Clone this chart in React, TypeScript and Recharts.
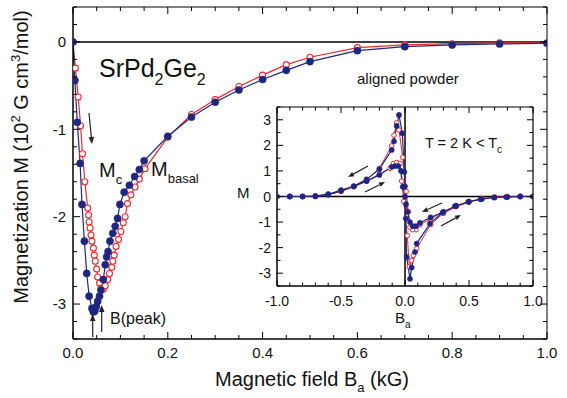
import React from 'react';
import { LineChart, Line, XAxis, YAxis, ReferenceLine } from 'recharts';

const BLUE = '#1f2682';
const RED = '#f0282a';
const FONT = '"Liberation Sans", Arial, Helvetica, sans-serif';

// main panel, virgin curves (field in kG, M in 10^2 G cm^3/mol)
const FIELD_BASAL = [
  0, 0.004, 0.009, 0.015, 0.019, 0.024, 0.029, 0.034, 0.04, 0.043, 0.046,
  0.049, 0.052, 0.056, 0.059, 0.064, 0.068, 0.071, 0.074, 0.078, 0.084,
  0.089, 0.094, 0.099, 0.108, 0.119, 0.13, 0.14, 0.15, 0.2, 0.25, 0.3, 0.35,
  0.4, 0.45, 0.5, 0.6, 0.7, 0.8, 0.9, 1.0
];
const M_BASAL = [
  0, -0.44, -0.92, -1.39, -1.86, -2.28, -2.65, -2.91, -3.05, -3.09, -3.08,
  -3.03, -2.97, -2.91, -2.84, -2.72, -2.55, -2.46, -2.4, -2.28, -2.19, -2.11,
  -2.02, -1.86, -1.72, -1.64, -1.54, -1.46, -1.36, -1.08, -0.86, -0.69,
  -0.55, -0.43, -0.325, -0.225, -0.1, -0.054, -0.034, -0.023, -0.015
];
const FIELD_C = [
  0, 0.005, 0.011, 0.016, 0.02, 0.025, 0.031, 0.033, 0.034, 0.036, 0.038,
  0.04, 0.043, 0.045, 0.047, 0.05, 0.052, 0.056, 0.059, 0.064, 0.068, 0.073,
  0.077, 0.082, 0.084, 0.087, 0.091, 0.096, 0.101, 0.106, 0.11, 0.115, 0.122,
  0.131, 0.14, 0.152, 0.2, 0.25, 0.3, 0.35, 0.4, 0.45, 0.5, 0.6, 0.7, 0.8,
  0.9, 1.0
];
const M_C = [
  0, -0.3, -0.63, -0.96, -1.28, -1.6, -1.9, -1.98, -2.06, -2.13, -2.21,
  -2.28, -2.36, -2.44, -2.51, -2.6, -2.69, -2.76, -2.82, -2.83, -2.79, -2.72,
  -2.65, -2.58, -2.51, -2.44, -2.34, -2.26, -2.17, -2.07, -2.0, -1.85, -1.75,
  -1.66, -1.57, -1.45, -1.09, -0.83, -0.66, -0.51, -0.38, -0.26, -0.175,
  -0.065, -0.034, -0.02, -0.01, -0.01
];

// inset, full loops in sweep order (down from +1 kG to -1 kG, then back up)
const LOOP_FIELD_BASAL = [
  1.0, 0.9, 0.8, 0.7, 0.6, 0.5, 0.4, 0.3, 0.2, 0.117, 0.086, 0.06, 0.039,
  0.02, 0.008, 0, -0.005, -0.021, -0.047, -0.065, -0.086, -0.104, -0.2, -0.3,
  -0.4, -0.5, -0.6, -0.7, -0.8, -0.9, -1.0,
  -0.9, -0.8, -0.7, -0.6, -0.5, -0.4, -0.3, -0.2, -0.104, -0.078, -0.052,
  -0.031, -0.018, 0, 0.006, 0.013, 0.039, 0.052, 0.078, 0.091, 0.195, 0.294,
  0.39, 0.495, 0.59, 0.695, 0.79, 0.9, 1.0
];
const LOOP_M_BASAL = [
  0, 0, -0.02, -0.04, -0.1, -0.2, -0.36, -0.6, -0.82, -1.03, -1.16, -1.16,
  -1.0, -0.6, -0.3, 0.4, 0.96, 2.47, 3.19, 2.76, 2.16, 1.82, 1.07, 0.67, 0.4,
  0.25, 0.09, 0.02, 0, 0, 0,
  0, 0, 0, 0.07, 0.22, 0.4, 0.6, 0.84, 1.16, 1.19, 1.19, 1.0, 0.38, 0,
  -0.86, -2.37, -3.22, -2.78, -2.17, -1.84, -1.06, -0.63, -0.38, -0.21,
  -0.11, -0.04, -0.02, 0, 0
];
const LOOP_FIELD_C = [
  1.0, 0.9, 0.8, 0.7, 0.6, 0.5, 0.4, 0.3, 0.2, 0.117, 0.086, 0.06, 0.039,
  0.026, 0.01, -0.018, -0.047, -0.065, -0.086, -0.104, -0.2, -0.3, -0.4,
  -0.5, -0.6, -0.7, -0.8, -0.9, -1.0,
  -0.9, -0.8, -0.7, -0.6, -0.5, -0.4, -0.3, -0.2, -0.117, -0.091, -0.065,
  -0.039, -0.026, -0.01, 0.018, 0.034, 0.052, 0.065, 0.091, 0.2, 0.3, 0.4,
  0.5, 0.6, 0.7, 0.8, 0.9, 1.0
];
const LOOP_M_C = [
  0, 0, -0.01, -0.03, -0.08, -0.2, -0.36, -0.6, -0.88, -1.1, -1.3, -1.3,
  -1.2, -0.6, 0.2, 1.53, 2.6, 2.88, 2.4, 1.98, 1.1, 0.66, 0.4, 0.22, 0.08,
  0.02, 0, 0, 0,
  0, 0, 0.01, 0.07, 0.2, 0.38, 0.6, 0.88, 1.1, 1.29, 1.33, 1.29, 0.6, -0.2,
  -1.53, -2.75, -2.5, -2.3, -2.04, -1.1, -0.66, -0.4, -0.22, -0.08, -0.03,
  -0.01, 0, 0
];

const MAIN_X_LABELS = [0, 0.2, 0.4, 0.6, 0.8, 1.0];
const MAIN_Y_LABELS = [-3, -2, -1, 0];
const INSET_X_LABELS = [-1, -0.5, 0, 0.5, 1];
const INSET_Y_LABELS = [-3, -2, -1, 0, 1, 2, 3];

const steps = (from: number, to: number, step: number) => {
  const out: number[] = [];
  const n = Math.round((to - from) / step);
  for (let i = 0; i <= n; i++) out.push(+(from + i * step).toFixed(4));
  return out;
};

const MAIN_X_TICKS = steps(0, 1, 0.05);
const MAIN_Y_TICKS = steps(-3.4, 0.4, 0.2);
const INSET_X_TICKS = steps(-1, 1, 0.1);
const INSET_Y_TICKS = steps(-3.5, 3.5, 0.5);

const zip = (xs: number[], ys: number[]) => xs.map((x, i) => ({ x, y: ys[i] }));

const basalData = zip(FIELD_BASAL, M_BASAL);
const cData = zip(FIELD_C, M_C);
const loopBasal = zip(LOOP_FIELD_BASAL, LOOP_M_BASAL);
const loopC = zip(LOOP_FIELD_C, LOOP_M_C);

type Side = 'bottom' | 'top' | 'left' | 'right';
type TickOpts = {
  labels: number[];
  fmt?: (v: number) => string;
  major: number;
  minor: number;
  fontSize?: number;
  gap?: number;
};

// ticks point inward, labels sit outside; tickSize=0 so x/y is the axis line
const makeTick = (side: Side, o: TickOpts) => (props: any) => {
  const { x, y, payload } = props;
  const v = payload.value;
  const isMajor = o.labels.some((l) => Math.abs(l - v) < 1e-6);
  const len = isMajor ? o.major : o.minor;
  const show = isMajor && o.fmt;
  const txt = { fontFamily: FONT, fontSize: o.fontSize, fill: '#111' };
  let line = null;
  let label = null;
  if (side === 'bottom') {
    line = <line x1={x} y1={y} x2={x} y2={y - len} stroke="#000" />;
    if (show) label = <text x={x} y={y + (o.gap || 0)} textAnchor="middle" {...txt}>{o.fmt!(v)}</text>;
  } else if (side === 'top') {
    line = <line x1={x} y1={y} x2={x} y2={y + len} stroke="#000" />;
  } else if (side === 'left') {
    line = <line x1={x} y1={y} x2={x + len} y2={y} stroke="#000" />;
    if (show) label = <text x={x - (o.gap || 0)} y={y} dy="0.36em" textAnchor="end" {...txt}>{o.fmt!(v)}</text>;
  } else {
    line = <line x1={x} y1={y} x2={x - len} y2={y} stroke="#000" />;
  }
  return <g>{line}{label}</g>;
};

const axisLine = { stroke: '#000', strokeWidth: 1.5 };

const Arrow = ({ x1, y1, x2, y2, head = 7 }: { x1: number; y1: number; x2: number; y2: number; head?: number }) => {
  const a = Math.atan2(y2 - y1, x2 - x1);
  const w = head * 0.4;
  const bx = x2 - head * Math.cos(a);
  const by = y2 - head * Math.sin(a);
  const p1 = `${bx + w * Math.sin(a)},${by - w * Math.cos(a)}`;
  const p2 = `${bx - w * Math.sin(a)},${by + w * Math.cos(a)}`;
  return (
    <g>
      <line x1={x1} y1={y1} x2={bx} y2={by} stroke="#222" strokeWidth={1.2} />
      <polygon points={`${x2},${y2} ${p1} ${p2}`} fill="#222" />
    </g>
  );
};

const MainChart = () => (
  <LineChart width={567} height={398} margin={{ top: 6, right: 19, bottom: 0, left: 0 }}>
    <XAxis
      type="number"
      dataKey="x"
      domain={[0, 1]}
      ticks={MAIN_X_TICKS}
      interval={0}
      allowDataOverflow
      height={59}
      tickSize={0}
      tickMargin={0}
      tickLine={false}
      axisLine={axisLine}
      tick={makeTick('bottom', { labels: MAIN_X_LABELS, fmt: (v) => v.toFixed(1), major: 7, minor: 4, fontSize: 15, gap: 19 })}
    />
    <XAxis
      xAxisId="top"
      orientation="top"
      type="number"
      dataKey="x"
      domain={[0, 1]}
      ticks={MAIN_X_TICKS}
      interval={0}
      allowDataOverflow
      height={1}
      tickSize={0}
      tickMargin={0}
      tickLine={false}
      axisLine={{ stroke: '#000', strokeWidth: 1 }}
      tick={makeTick('top', { labels: MAIN_X_LABELS, major: 7, minor: 4 })}
    />
    <YAxis
      type="number"
      domain={[-3.4, 0.4]}
      ticks={MAIN_Y_TICKS}
      interval={0}
      allowDataOverflow
      width={73}
      tickSize={0}
      tickMargin={0}
      tickLine={false}
      axisLine={axisLine}
      tick={makeTick('left', { labels: MAIN_Y_LABELS, fmt: (v) => String(v), major: 7, minor: 4, fontSize: 15, gap: 7 })}
    />
    <YAxis
      yAxisId="right"
      orientation="right"
      type="number"
      domain={[-3.4, 0.4]}
      ticks={MAIN_Y_TICKS}
      interval={0}
      allowDataOverflow
      width={1}
      tickSize={0}
      tickMargin={0}
      tickLine={false}
      axisLine={{ stroke: '#000', strokeWidth: 1 }}
      tick={makeTick('right', { labels: MAIN_Y_LABELS, major: 7, minor: 4 })}
    />
    <ReferenceLine y={0} stroke="#000" strokeWidth={1.5} />
    <Line
      data={cData}
      dataKey="y"
      type="linear"
      stroke={RED}
      strokeWidth={1.2}
      dot={{ r: 3, fill: '#fff', stroke: RED, strokeWidth: 1.1 }}
      activeDot={false}
      isAnimationActive={false}
    />
    <Line
      data={basalData}
      dataKey="y"
      type="linear"
      stroke={BLUE}
      strokeWidth={1.2}
      dot={{ r: 3.6, fill: BLUE, stroke: BLUE, strokeWidth: 0.5 }}
      activeDot={false}
      isAnimationActive={false}
    />
  </LineChart>
);

const InsetChart = () => (
  <LineChart width={325} height={235} margin={{ top: 6, right: 21, bottom: 0, left: 0 }}>
    <XAxis
      type="number"
      dataKey="x"
      domain={[-1, 1]}
      ticks={INSET_X_TICKS}
      interval={0}
      allowDataOverflow
      height={49}
      tickSize={0}
      tickMargin={0}
      tickLine={false}
      axisLine={axisLine}
      tick={makeTick('bottom', { labels: INSET_X_LABELS, fmt: (v) => v.toFixed(1), major: 6, minor: 3.5, fontSize: 14, gap: 20 })}
    />
    <XAxis
      xAxisId="top"
      orientation="top"
      type="number"
      dataKey="x"
      domain={[-1, 1]}
      ticks={INSET_X_TICKS}
      interval={0}
      allowDataOverflow
      height={1}
      tickSize={0}
      tickMargin={0}
      tickLine={false}
      axisLine={{ stroke: '#000', strokeWidth: 1.2 }}
      tick={makeTick('top', { labels: INSET_X_LABELS, major: 6, minor: 3.5 })}
    />
    <YAxis
      type="number"
      domain={[-3.5, 3.5]}
      ticks={INSET_Y_TICKS}
      interval={0}
      allowDataOverflow
      width={47}
      tickSize={0}
      tickMargin={0}
      tickLine={false}
      axisLine={axisLine}
      tick={makeTick('left', { labels: INSET_Y_LABELS, fmt: (v) => String(v), major: 6, minor: 3.5, fontSize: 14, gap: 6 })}
    />
    <YAxis
      yAxisId="right"
      orientation="right"
      type="number"
      domain={[-3.5, 3.5]}
      ticks={INSET_Y_TICKS}
      interval={0}
      allowDataOverflow
      width={1}
      tickSize={0}
      tickMargin={0}
      tickLine={false}
      axisLine={{ stroke: '#000', strokeWidth: 1.2 }}
      tick={makeTick('right', { labels: INSET_Y_LABELS, major: 6, minor: 3.5 })}
    />
    <ReferenceLine y={0} stroke="#000" strokeWidth={1.5} />
    <ReferenceLine x={0} stroke="#000" strokeWidth={1.5} />
    <Line
      data={loopC}
      dataKey="y"
      type="linear"
      stroke={RED}
      strokeWidth={1}
      dot={{ r: 2.3, fill: '#fff', stroke: RED, strokeWidth: 1 }}
      activeDot={false}
      isAnimationActive={false}
    />
    <Line
      data={loopBasal}
      dataKey="y"
      type="linear"
      stroke={BLUE}
      strokeWidth={1.2}
      dot={{ r: 2.6, fill: BLUE, stroke: BLUE, strokeWidth: 0.5 }}
      activeDot={false}
      isAnimationActive={false}
    />
  </LineChart>
);

const Annotations = () => (
  <svg width={567} height={398} style={{ position: 'absolute', left: 0, top: 0, pointerEvents: 'none' }} fontFamily={FONT} fill="#111">
    <text transform="translate(28,157) rotate(-90)" textAnchor="middle" fontSize={20}>
      Magnetization M (10<tspan fontSize={13} dy={-8}>2</tspan>
      <tspan dy={8}> G cm</tspan>
      <tspan fontSize={13} dy={-8}>3</tspan>
      <tspan dy={8}>/mol)</tspan>
    </text>
    <text x={312} y={386} textAnchor="middle" fontSize={20}>
      Magnetic field B<tspan fontSize={13} dy={6}>a</tspan>
      <tspan dy={-6}> (kG)</tspan>
    </text>

    <text x={99} y={77} fontSize={25}>
      SrPd<tspan fontSize={16} dy={8}>2</tspan>
      <tspan dy={-8}>Ge</tspan>
      <tspan fontSize={16} dy={8}>2</tspan>
    </text>
    <text x={357} y={84} fontSize={15}>aligned powder</text>

    <text x={99} y={177} fontSize={20}>
      M<tspan fontSize={13} dy={7}>c</tspan>
    </text>
    <text x={151} y={176} fontSize={20}>
      M<tspan fontSize={13} dy={7}>basal</tspan>
    </text>
    <Arrow x1={89} y1={113} x2={92} y2={144} />

    <text x={110} y={324} fontSize={16}>B(peak)</text>
    <Arrow x1={92.7} y1={337} x2={92.7} y2={314} />
    <Arrow x1={101.7} y1={332} x2={101.7} y2={305} />

    <text x={425} y={148} fontSize={14.5}>
      T = 2 K &lt; T<tspan fontSize={10} dy={5}>c</tspan>
    </text>
    <text x={237} y={198} fontSize={15}>M</text>
    <text x={395} y={323} fontSize={15}>
      B<tspan fontSize={10} dy={5}>a</tspan>
    </text>
    <Arrow x1={368} y1={166} x2={348} y2={177} head={6} />
    <Arrow x1={365} y1={192} x2={385} y2={182} head={6} />
    <Arrow x1={442} y1={203} x2={422} y2={212} head={6} />
    <Arrow x1={441} y1={226} x2={461} y2={215} head={6} />
  </svg>
);

export default function App() {
  return (
    <div style={{ position: 'absolute', left: 0, top: 0, width: 567, height: 398, background: '#fff', fontFamily: FONT }}>
      <div style={{ position: 'absolute', left: 0, top: 0 }}>
        <MainChart />
      </div>
      <div style={{ position: 'absolute', left: 230, top: 100 }}>
        <InsetChart />
      </div>
      <Annotations />
    </div>
  );
}
